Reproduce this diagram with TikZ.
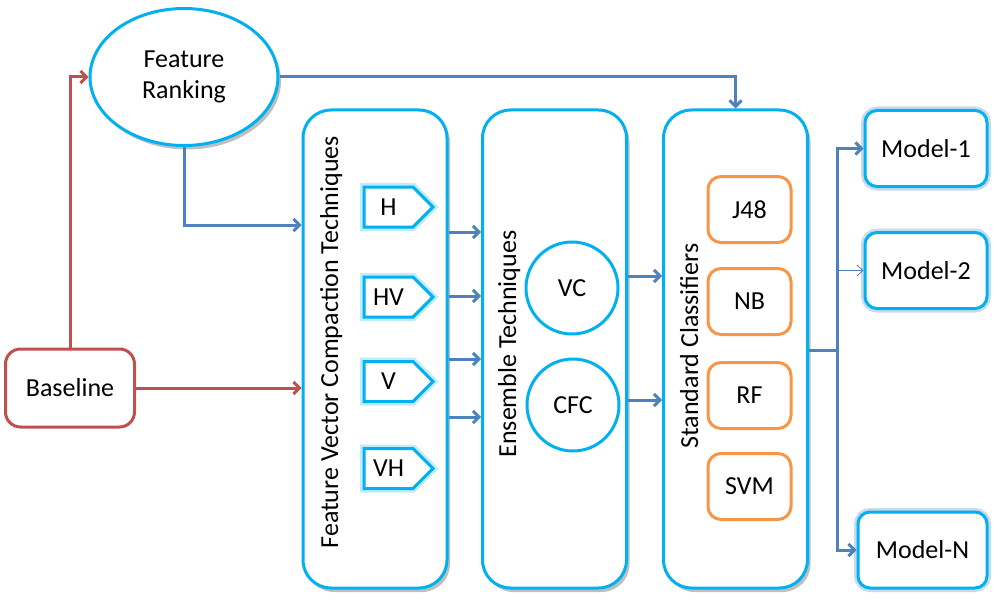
\documentclass[tikz,border=0pt]{standalone}
\usepackage{fontspec}
\setmainfont{Carlito}
\usepackage{tikz}
\usetikzlibrary{positioning,shapes.geometric,shapes.symbols,shadows,arrows.meta}

\definecolor{boxblue}{HTML}{00B0F0}
\definecolor{linkblue}{HTML}{4F81BD}
\definecolor{basered}{HTML}{C0504D}
\definecolor{clsorange}{HTML}{F79646}

\begin{document}
\begin{tikzpicture}[x=1pt,y=-1pt,
  font=\fontsize{26}{31}\selectfont,
  shade/.style={drop shadow={shadow xshift=3pt,shadow yshift=-4pt,opacity=0.25,fill=black}},
  panel/.style={draw=boxblue,line width=3pt,fill=white,rounded corners=28pt,
    minimum width=144pt,minimum height=478pt,shade},
  panellabel/.style={rotate=90,anchor=base west,font=\fontsize{26}{31}\selectfont},
  tag/.style={signal,signal to=east,draw=boxblue,line width=3pt,fill=white,
    minimum width=69pt,minimum height=40pt,inner sep=0pt,
    preaction={draw=boxblue!25,line width=8pt}},
  ring/.style={circle,draw=boxblue,line width=3pt,fill=white,minimum size=92pt,inner sep=0pt},
  clsbox/.style={draw=clsorange,line width=3pt,fill=white,rounded corners=13pt,
    minimum width=83pt,minimum height=66pt},
  modelbox/.style={draw=boxblue,line width=3pt,fill=white,rounded corners=12pt,
    minimum width=122pt,minimum height=76pt,
    preaction={draw=linkblue!30,line width=8pt}},
  link/.style={draw=linkblue,line width=3pt,-{Straight Barb[length=6pt,width=12pt]}},
  redlink/.style={link,draw=basered}]

\useasboundingbox (0,0) rectangle (1001,615);

% left side
\node[ellipse,draw=boxblue,line width=3pt,fill=white,minimum width=188pt,minimum height=137pt,
  inner sep=0pt,align=center,shade] (fr) at (184,77) {Feature\\Ranking};
\node[draw=basered,line width=3pt,fill=white,rounded corners=15pt,minimum width=129pt,
  minimum height=78pt] (bl) at (70,388) {Baseline};

% three panels
\node[panel] (fvct) at (375,349) {};
\node[panel] (ens) at (554.5,349) {};
\node[panel] (sc) at (735.5,349) {};
\node[panellabel] (fvctlabel) at (338,552) {Feature Vector Compaction Techniques};
\node[panellabel] (enslabel) at (516,461) {Ensemble Techniques};
\node[panellabel] (sclabel) at (698,452) {Standard Classifiers};

% compaction tags
\node[tag] (h) at (388.5,207) {H};
\node[tag] (hv) at (388.5,297) {HV};
\node[tag] (v) at (388.5,381.5) {V};
\node[tag] (vh) at (388.5,468.5) {VH};

% ensembles
\node[ring] (vc) at (572,288) {VC};
\node[ring] (cfc) at (573,405) {CFC};

% classifiers
\node[clsbox] (j48) at (749.5,209.5) {J48};
\node[clsbox] (nb) at (749.5,301.5) {NB};
\node[clsbox] (rf) at (749.5,395.5) {RF};
\node[clsbox] (svm) at (749.5,486.5) {SVM};

% models
\node[modelbox] (m1) at (926,148.5) {Model-1};
\node[modelbox] (m2) at (926,270.5) {Model-2};
\node[modelbox,minimum width=129pt] (mn) at (922.5,550) {Model-N};

% connectors
\draw[redlink] (bl.north) |- (fr.west);
\draw[redlink] (bl.east) -- (fvct.west |- bl.east);
\draw[link] (fr.south) |- ([yshift=124pt]fvct.west);
\draw[link] (fr.east) -| (sc.north);
\foreach \y in {232,296,359,417}
  \draw[link] (fvct.east |- 0,\y) -- (ens.west |- 0,\y);
\foreach \y in {276,400}
  \draw[link] (ens.east |- 0,\y) -- (sc.west |- 0,\y);
\coordinate (bus) at (837,350);
\draw[draw=linkblue,line width=3pt] (sc.east |- bus) -- (bus);
\draw[link] (bus) |- (m1.west);
\draw[link] (bus) |- (mn.west);
\draw[draw=linkblue,line width=0.8pt,-{Straight Barb[length=6pt,width=11pt]}] (bus |- m2.west) -- (m2.west);
\end{tikzpicture}
\end{document}
